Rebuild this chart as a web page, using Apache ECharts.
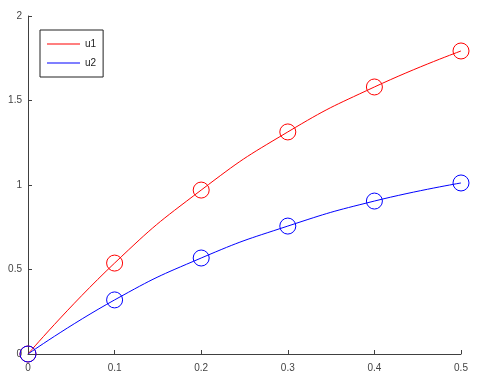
<!DOCTYPE html>
<html>
<head>
<meta charset="utf-8">
<script src="https://cdn.jsdelivr.net/npm/echarts@6/dist/echarts.min.js"></script>
<style>html,body{margin:0;padding:0;background:#fff}#c{width:493px;height:382px}</style>
</head>
<body>
<div id="c"></div>
<script>
const xValues = [0, 0.1, 0.2, 0.3, 0.4, 0.5];
const u1 = [0, 0.538, 0.970, 1.314, 1.580, 1.793];
const u2 = [0, 0.320, 0.568, 0.757, 0.905, 1.012];
const seriesNames = ['u1', 'u2'];

const chart = echarts.init(document.getElementById('c'), null, {renderer: 'canvas'});
const axisCommon = {
  axisLine: {show: true, lineStyle: {color: '#404040', width: 1}},
  axisTick: {show: true, inside: true, length: 4, lineStyle: {color: '#404040'}},
  axisLabel: {color: '#444', fontSize: 10, fontFamily: 'Liberation Sans, Arial, sans-serif'},
  splitLine: {show: false}
};
function mkSeries(name, vals, col) {
  return {
    name: name, type: 'line', smooth: true,
    data: xValues.map((x, i) => [x, vals[i]]),
    color: col,
    lineStyle: {width: 1, color: col},
    symbol: 'circle', symbolSize: 16,
    itemStyle: {color: 'rgba(0,0,0,0)', borderColor: col, borderWidth: 1},
    emphasis: {disabled: true}
  };
}
chart.setOption({
  animation: false,
  backgroundColor: '#fff',
  grid: {left: 28, right: 32, top: 16, bottom: 28},
  legend: {
    left: 40, top: 30, orient: 'vertical',
    data: seriesNames.map((n, i) => ({name: n, itemStyle: {color: i ? '#0000ff' : '#ff0000', borderWidth: 0}})),
    icon: 'rect', itemWidth: 33, itemHeight: 1, itemGap: 9,
    borderColor: '#222', borderWidth: 1, padding: [9, 7, 9, 7],
    textStyle: {fontSize: 10, color: '#222', fontFamily: 'Liberation Sans, Arial, sans-serif'}
  },
  xAxis: Object.assign({type: 'value', min: 0, max: 0.5, interval: 0.1}, axisCommon, {
    axisLabel: Object.assign({}, axisCommon.axisLabel, {margin: 9})
  }),
  yAxis: Object.assign({type: 'value', min: 0, max: 2, interval: 0.5}, axisCommon, {
    axisLabel: Object.assign({}, axisCommon.axisLabel, {margin: 6})
  }),
  series: [mkSeries(seriesNames[0], u1, '#ff0000'), mkSeries(seriesNames[1], u2, '#0000ff')]
});
</script>
</body>
</html>
